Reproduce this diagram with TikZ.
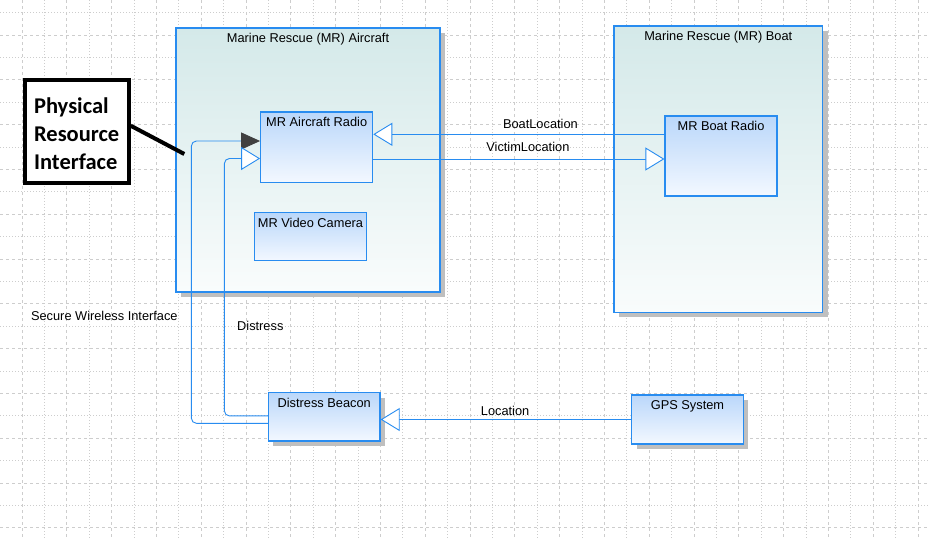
\documentclass[tikz,border=0pt]{standalone}
\usepackage{fontspec}
\setmainfont{Liberation Sans}
\newfontfamily\calloutfont{Carlito}
\usepackage{tikz}
\usetikzlibrary{arrows.meta, shadows}
\definecolor{lineblue}{RGB}{40,140,240}
\definecolor{boxtop}{RGB}{186,215,250}
\definecolor{boxbottom}{RGB}{243,248,255}
\definecolor{parttop}{RGB}{212,233,233}
\definecolor{partbottom}{RGB}{249,252,252}
\definecolor{gridgray}{RGB}{205,205,205}
\tikzset{
  part/.style={draw=lineblue, line width=1.2pt, top color=parttop, bottom color=partbottom},
  block/.style={draw=lineblue, line width=1.2pt, top color=boxtop, bottom color=boxbottom},
  shadowed/.style={drop shadow={shadow xshift=5pt, shadow yshift=-5pt, fill=black!25, opacity=1}},
  boxtitle/.style={label={[anchor=north, inner sep=2.5pt, yshift=-3pt]north:#1}},
  flow/.style={draw=lineblue, line width=0.9pt},
  openhead/.style={-{Triangle[length=19pt, width=23pt, fill=white]}},
  darkhead/.style={-{Triangle[length=19pt, width=17pt, color=black!75]}},
  griddash/.style={gridgray, line width=0.8pt, dash pattern=on 3pt off 3pt},
  griddot/.style={gridgray, line width=0.8pt, dash pattern=on 1pt off 2pt},
  callout/.style={draw=black, line width=4pt, fill=white, align=left,
    font=\calloutfont\bfseries\fontsize{22.5}{28}\selectfont},
  pointer/.style={draw=black, line width=4pt}
}

\begin{document}
\begin{tikzpicture}[x=1pt, y=-1pt, font=\fontsize{12.8}{15}\selectfont]
  \fill[white] (0,0) rectangle (929,538);
  \useasboundingbox (0,0) rectangle (929,538);
  \foreach \k in {0,...,40}{
    \ifodd\k \draw[griddot] ({22+22.4*\k},0) -- ({22+22.4*\k},538);
    \else \draw[griddash] ({22+22.4*\k},0) -- ({22+22.4*\k},538); \fi}
  \foreach \k in {0,...,23}{
    \ifodd\k \draw[griddash] (0,{12.5+22.4*\k}) -- (929,{12.5+22.4*\k});
    \else \draw[griddot] (0,{12.5+22.4*\k}) -- (929,{12.5+22.4*\k}); \fi}

  \node[part, shadowed, minimum width=264pt, minimum height=264pt,
    boxtitle={Marine Rescue (MR) Aircraft}] (aircraft) at (308,160) {};
  \node[part, shadowed, minimum width=208.7pt, minimum height=286.3pt,
    boxtitle={Marine Rescue (MR) Boat}] (boat) at (718.3,169.2) {};

  \node[block, minimum width=112pt, minimum height=70.7pt,
    boxtitle={MR Aircraft Radio}] (radio) at (316.7,147.3) {};
  \node[block, minimum width=112pt, minimum height=48pt,
    boxtitle={MR Video Camera}] (camera) at (310.5,236.8) {};
  \node[block, minimum width=112pt, minimum height=80pt,
    boxtitle={MR Boat Radio}] (boatradio) at (721,156) {};
  \node[block, shadowed, minimum width=111.7pt, minimum height=48.3pt,
    boxtitle={Distress Beacon}] (beacon) at (324.2,416.9) {};
  \node[block, shadowed, minimum width=111.7pt, minimum height=49pt,
    boxtitle={GPS System}] (gps) at (687.5,419.5) {};

  \node[callout, minimum width=104pt, minimum height=102.7pt] (pri) at (76.7,131.7)
    {\raisebox{-4.5pt}[\height][\depth]{\begin{tabular}{@{}l@{}}Physical\\Resource\\Interface\end{tabular}}};
  \coordinate (pritip) at (184.3,154);
  \draw[pointer] ([yshift=6pt]pri.east) -- (pritip);

  \draw[flow, openhead] ([yshift=21.7pt]boatradio.west) coordinate (bl) -- (bl -| radio.east)
    node[pos=0.426, above=1.5pt] {BoatLocation};
  \draw[flow, openhead] ([yshift=-11.7pt]radio.east) coordinate (vl) -- (vl -| boatradio.west)
    node[pos=0.531, above=3.5pt] {VictimLocation};
  \draw[flow, openhead] (gps.west) -- (gps.west -| beacon.east)
    node[pos=0.503, above=0pt] {Location};
  \draw[flow, darkhead, rounded corners=5pt] ([yshift=-6.4pt]beacon.west)
    -| ([xshift=-68.7pt, yshift=6.3pt]radio.west)
    node[pos=0.69, left=10pt] {Secure Wireless Interface}
    -- ([yshift=6.3pt]radio.west);
  \draw[flow, openhead, rounded corners=5pt] ([yshift=1pt]beacon.west)
    -| ([xshift=-35.7pt, yshift=-11.2pt]radio.west)
    node[pos=0.675, right=9pt] {Distress}
    -- ([yshift=-11.2pt]radio.west);
\end{tikzpicture}
\end{document}
